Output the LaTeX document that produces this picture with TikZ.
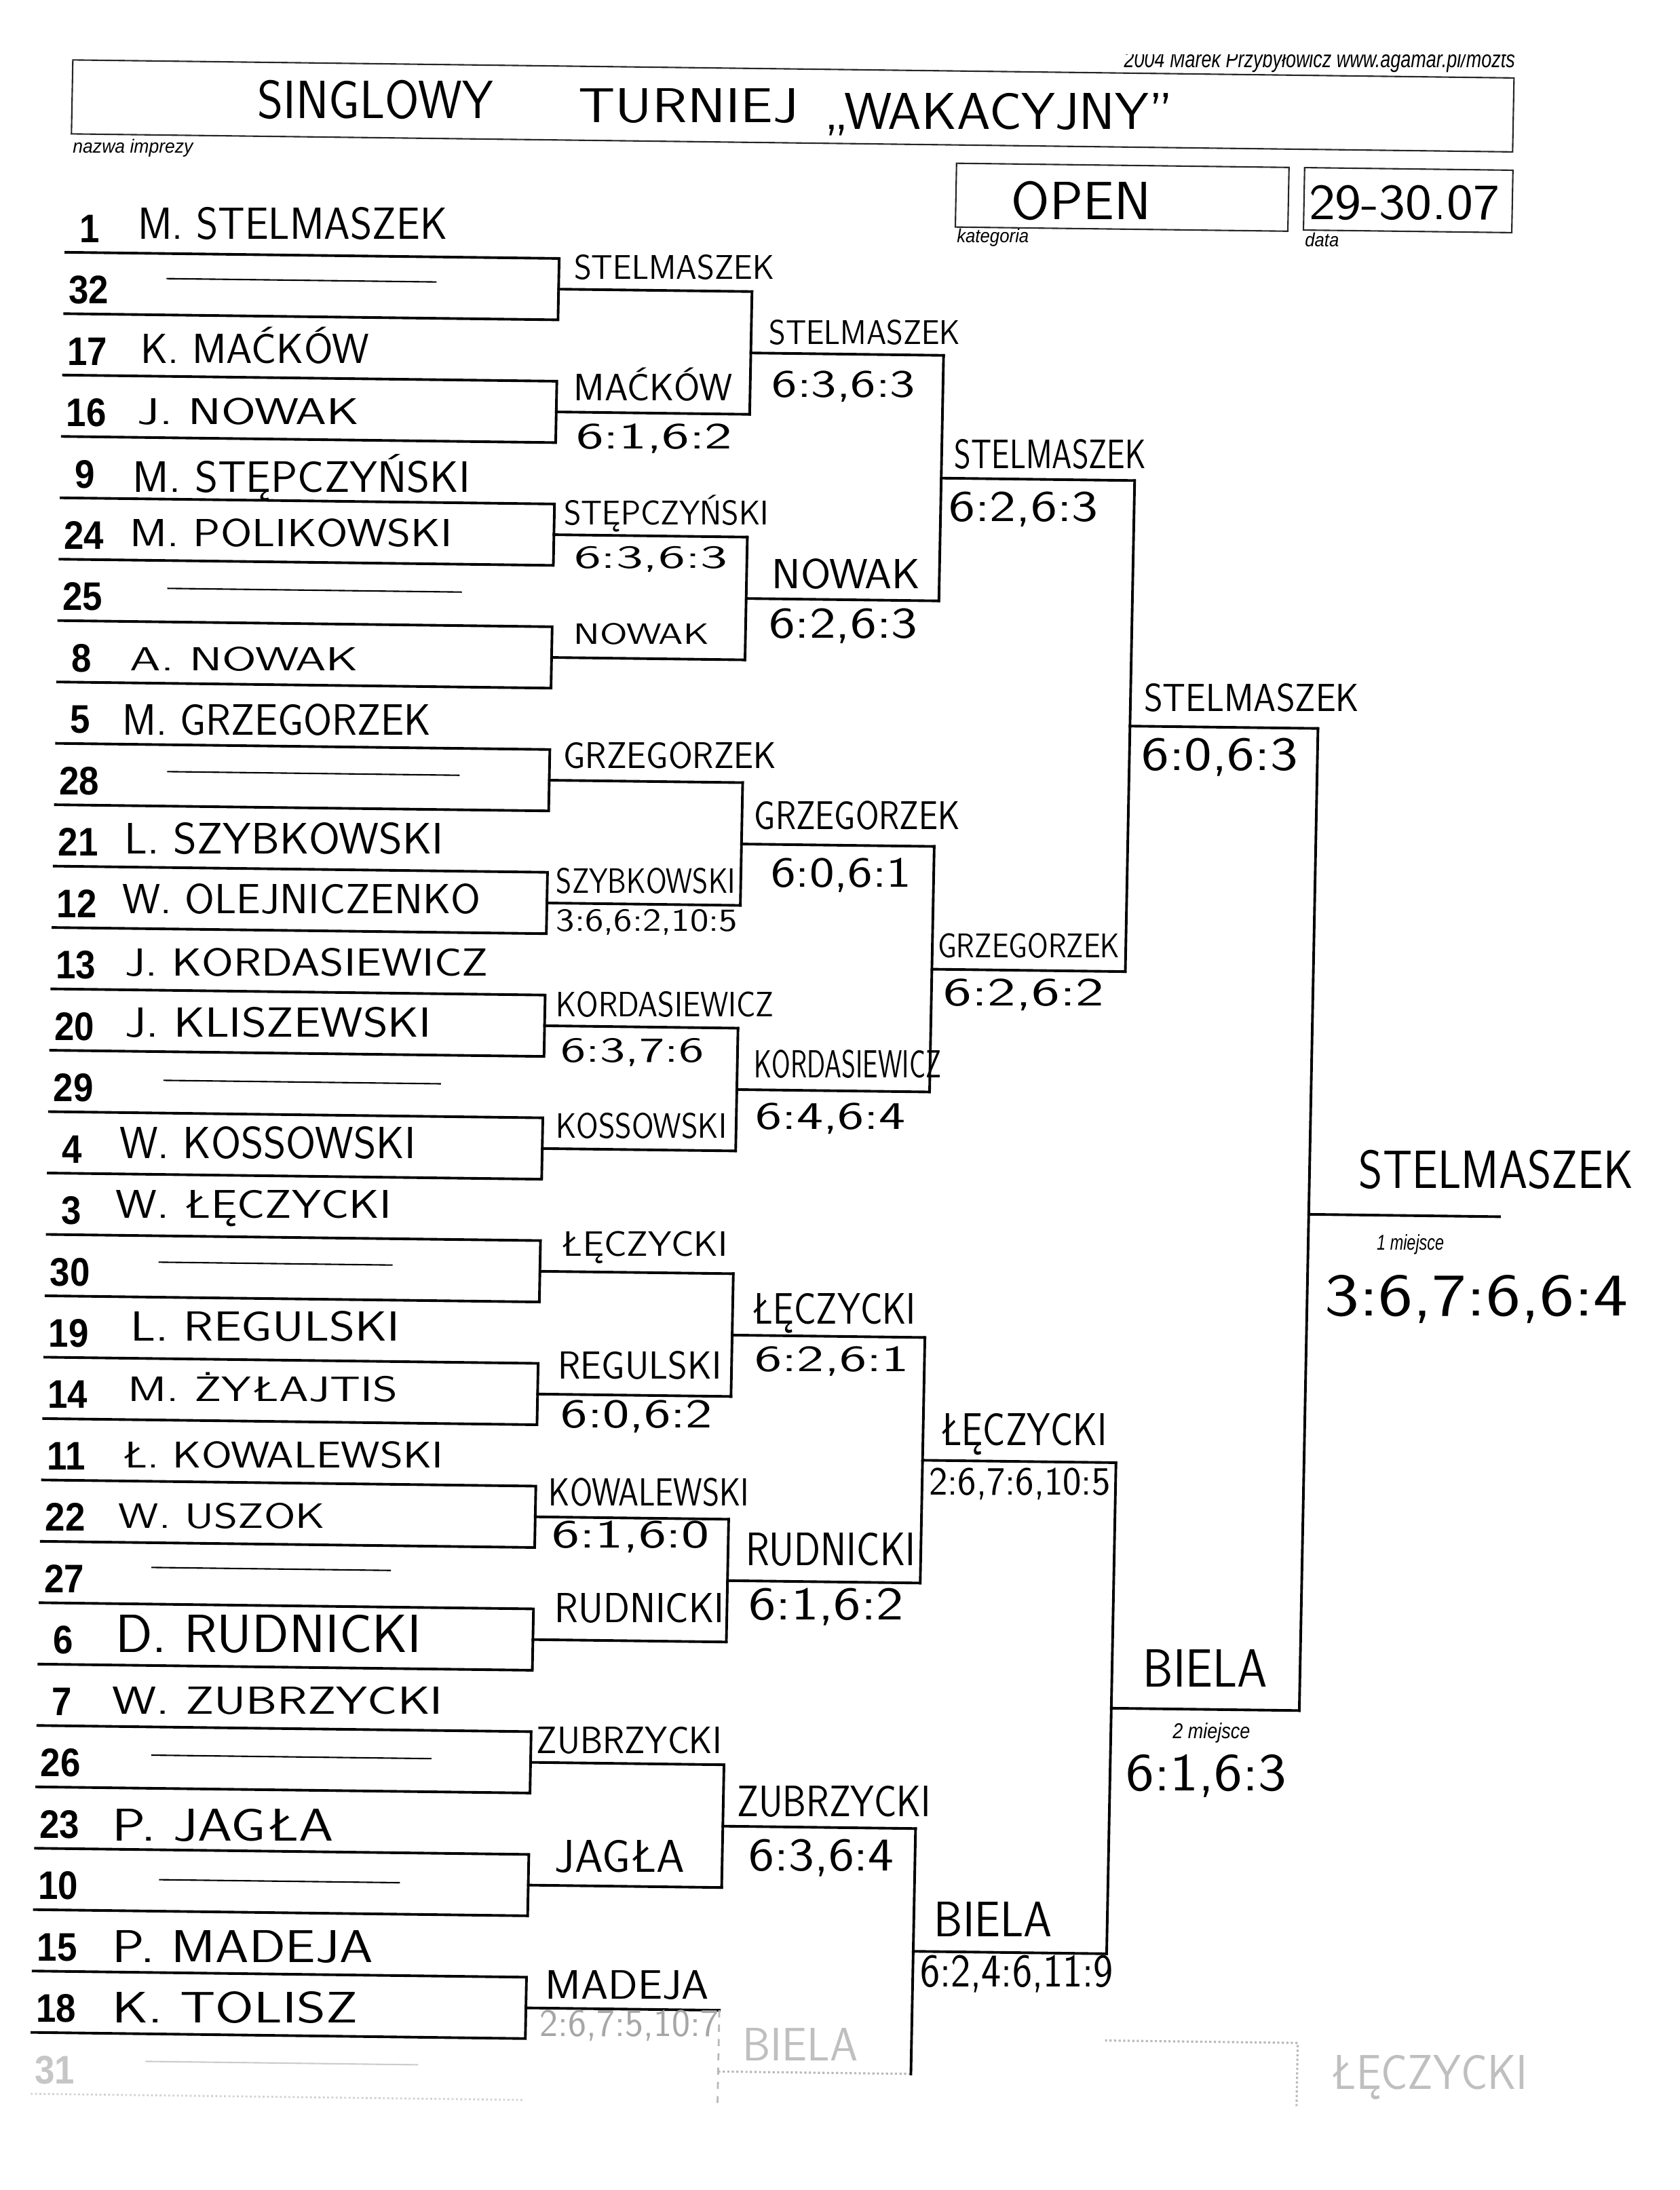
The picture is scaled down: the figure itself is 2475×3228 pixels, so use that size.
\documentclass[tikz,border=0pt]{standalone}
\usepackage{fontspec}
\usepackage{graphicx}
\newfontfamily\numfont{Liberation Sans}
\newfontfamily\prfont{Liberation Sans}
\newdimen\hwl
% handwriting: #1 cap height (px), #2 width (px), #3 text
\newcommand\hw[3]{{\pgfmathsetmacro\hws{#1*0.41}\fontsize{\hws}{\hws}\selectfont\sffamily\settowidth{\hwl}{#3}\pgfmathsetmacro\hwr{#2*0.284528/\hwl}\scalebox{\hwr}[1]{#3}}}
% printed italic: #1 size (pt), #2 width (px), #3 text
\newcommand\pr[3]{{\fontsize{#1}{#1}\selectfont\prfont\itshape\settowidth{\hwl}{#3}\pgfmathsetmacro\hwr{#2*0.284528/\hwl}\scalebox{\hwr}[1]{#3}}}
\newcommand\nb[1]{{\fontsize{16.7}{16.7}\selectfont\numfont\bfseries\scalebox{0.9}[1]{#1}}}
\tikzset{
  br/.style={line width=1.1pt, line join=miter, line cap=rect},
  dsh/.style={line width=0.6pt},
  hwn/.style={anchor=base west, inner sep=0pt},
  numn/.style={anchor=base, inner sep=0pt},
  faintc/.style={gray!55},
  hbox/.style={line width=0.6pt, draw=black!85},
}
\begin{document}
\begin{tikzpicture}[x=0.01cm,y=-0.01cm]
\useasboundingbox (0,0) rectangle (2475,3228);
\fill[white] (0,0) rectangle (2475,3228);
\begin{scope}
  \clip (1500,81) rectangle (2400,140);
  \begin{scope}[cm={1,-0.0125,0.019,1,(0,0)}]
    \node[anchor=base east, inner sep=0pt] (credit) at (2235,72) {\pr{10}{576}{2004 Marek Przybyłowicz www.agamar.pl/mozts}};
  \end{scope}
\end{scope}
\begin{scope}[cm={1,-0.0125,0.019,1,(0,0)}]
  % header
  \draw[hbox] (109,87) rectangle (2233,196);
  \node[hwn] (t1) at (382,170) {\hw{55}{347}{SINGLOWY}};
  \node[hwn] (t2) at (855,169.5) {\hw{50}{324}{TURNIEJ}};
  \node[hwn] (t3) at (1218,175) {\hw{53}{513}{„WAKACYJNY”}};
  \node[hwn] (lab1) at (111,224) {\pr{8}{177}{nazwa imprezy}};
  \draw[hbox] (1414,223) rectangle (1904,317);
  \node[hwn] (cat) at (1496,305) {\hw{55}{205}{OPEN}};
  \node[hwn] (lab2) at (1416,340) {\pr{8}{106}{kategoria}};
  \draw[hbox] (1927,223) rectangle (2234,315);
  \node[hwn] (date) at (1934,299) {\hw{52}{281}{29-30.07}};
  \node[hwn] (lab3) at (1929,339) {\pr{8}{50}{data}};

  % round 1 lines
  \foreach \i in {0,...,29}{
    \coordinate (w\i) at (104,{370.5+90.46*\i});
    \coordinate (e\i) at (831,{370.5+90.46*\i});
  }
  \foreach \k in {0,...,14}{
    \pgfmathtruncatemacro\a{2*\k}
    \pgfmathtruncatemacro\b{2*\k+1}
    \draw[br] (w\a) -- (e\a) -- (e\b) -- (w\b);
    \coordinate (ma\k) at (831,{415.73+180.92*\k});
    \coordinate (mb\k) at (1116,{415.73+180.92*\k});
    \draw[br] (ma\k) -- (mb\k);
  }
  \coordinate (w30) at (104,3084.3);
  \coordinate (e30) at (831,3084.3);
  \draw[gray!35, densely dotted, line width=0.8pt] (w30) -- (e30);
  % round 2 brackets
  \foreach \j in {0,...,6}{
    \pgfmathtruncatemacro\a{2*\j}
    \pgfmathtruncatemacro\b{2*\j+1}
    \draw[br] (mb\a) -- (mb\b);
    \coordinate (na\j) at (1116,{506.19+361.84*\j});
    \coordinate (nb\j) at (1400,{506.19+361.84*\j});
    \draw[br] (na\j) -- (nb\j);
  }
  \coordinate (na7) at (1116,3038.8);
  \coordinate (nb7) at (1400,3038.8);
  \coordinate (mf) at (1116,3085);
  \draw[faintc, dashed, line width=0.8pt] (mb14) -- (mf);
  \draw[faintc, densely dotted, line width=0.9pt] (na7) -- (nb7);
  % round 3 brackets
  \foreach \h in {0,...,3}{
    \pgfmathtruncatemacro\a{2*\h}
    \pgfmathtruncatemacro\b{2*\h+1}
    \draw[br] (nb\a) -- (nb\b);
    \coordinate (pa\h) at (1400,{687.11+723.68*\h});
    \coordinate (pb\h) at (1685,{687.11+723.68*\h});
    \draw[br] (pa\h) -- (pb\h);
  }
  % round 4 brackets
  \foreach \g in {0,1}{
    \pgfmathtruncatemacro\a{2*\g}
    \pgfmathtruncatemacro\b{2*\g+1}
    \draw[br] (pb\a) -- (pb\b);
    \coordinate (qa\g) at (1685,{1048.95+1447.36*\g});
    \coordinate (qb\g) at (1962,{1048.95+1447.36*\g});
    \draw[br] (qa\g) -- (qb\g);
  }
  % final
  \draw[br] (qb0) -- (qb1);
  \coordinate (fa) at (1962,1765);
  \coordinate (fb) at (2243,1765);
  \draw[br] (fa) -- (fb);
  % third place (faint)
  \coordinate (ta) at (1685,2986);
  \coordinate (tb) at (1969,2986);
  \coordinate (tc) at (1969,3080);
  \draw[faintc, densely dotted, line width=0.9pt] (ta) -- (tb) -- (tc);
  \node[hwn, text=gray!50] (third) at (2018,3054) {\hw{50}{291}{ŁĘCZYCKI}};

  % seed numbers
  \foreach \i/\t in {0/1,1/32,2/17,3/16,4/9,5/24,6/25,7/8,8/5,9/28,10/21,11/12,12/13,13/20,14/29,15/4,16/3,17/30,18/19,19/14,20/11,21/22,22/27,23/6,24/7,25/26,26/23,27/10,28/15,29/18}{
    \node[numn] (num\i) at (139,{355.5+90.46*\i}) {\nb{\t}};
  }
  \node[numn, text=gray!45] (num30) at (139,3069.3) {\nb{31}};

  % bye dashes
  \draw[dsh] (253,407.5) -- (651,407.5);
  \draw[dsh] (263,864) -- (697,864);
  \draw[dsh] (268,1134) -- (699,1134);
  \draw[dsh] (271,1589) -- (680,1589);
  \draw[dsh] (269,1857) -- (614,1857);
  \draw[dsh] (267,2307) -- (620,2307);
  \draw[dsh] (272,2583.6) -- (685,2583.6);
  \draw[dsh] (287,2767) -- (642,2767);
  \draw[dsh, gray!40] (272,3035) -- (674,3035);

  % round 1 names
  \node[hwn] (n0) at (209,349.6) {\hw{46}{456}{M. STELMASZEK}};
  \node[hwn] (n2) at (217,533) {\hw{43}{336}{K. MAĆKÓW}};
  \node[hwn] (n3) at (214,622.5) {\hw{38}{326}{J. NOWAK}};
  \node[hwn] (n4) at (209,723) {\hw{45}{497}{M. STĘPCZYŃSKI}};
  \node[hwn] (n5) at (206,803) {\hw{40}{475}{M. POLIKOWSKI}};
  \node[hwn] (n7) at (210,985.5) {\hw{34}{336}{A. NOWAK}};
  \node[hwn] (n8) at (200,1081) {\hw{45}{455}{M. GRZEGORZEK}};
  \node[hwn] (n10) at (207,1256) {\hw{45}{470}{L. SZYBKOWSKI}};
  \node[hwn] (n11) at (205,1343.5) {\hw{43}{528}{W. OLEJNICZENKO}};
  \node[hwn] (n12) at (211,1436) {\hw{40}{535}{J. KORDASIEWICZ}};
  \node[hwn] (n13) at (213,1526) {\hw{43}{451}{J. KLISZEWSKI}};
  \node[hwn] (n15) at (208,1705) {\hw{46}{436}{W. KOSSOWSKI}};
  \node[hwn] (n16) at (204,1793) {\hw{41}{406}{W. ŁĘCZYCKI}};
  \node[hwn] (n18) at (229,1974) {\hw{43}{397}{L. REGULSKI}};
  \node[hwn] (n19) at (227,2063) {\hw{36}{397}{M. ŻYŁAJTIS}};
  \node[hwn] (n20) at (220,2161) {\hw{38}{473}{Ł. KOWALEWSKI}};
  \node[hwn] (n21) at (217,2250) {\hw{36}{304}{W. USZOK}};
  \node[hwn] (n23) at (216,2433) {\hw{55}{451}{D. RUDNICKI}};
  \node[hwn] (n24) at (213,2524) {\hw{40}{487}{W. ZUBRZYCKI}};
  \node[hwn] (n26) at (216,2711) {\hw{47}{326}{P. JAGŁA}};
  \node[hwn] (n28) at (220,2889.5) {\hw{47}{384}{P. MADEJA}};
  \node[hwn] (n29) at (221,2979) {\hw{45}{362}{K. TOLISZ}};

  % round 2 labels
  \node[hwn] (r2w0) at (853,400.5) {\hw{35}{295}{STELMASZEK}};
  \node[hwn] (r2w1) at (856,580) {\hw{39}{234}{MAĆKÓW}};
  \node[hwn] (r2s1) at (861,651) {\hw{38}{230}{6:1,6:2}};
  \node[hwn] (r2w2) at (845,762.7) {\hw{35}{302}{STĘPCZYŃSKI}};
  \node[hwn] (r2s2) at (861,827) {\hw{33}{226}{6:3,6:3}};
  \node[hwn] (r2w3) at (863,939) {\hw{30}{199}{NOWAK}};
  \node[hwn] (r2w4) at (851,1122) {\hw{38}{314}{GRZEGORZEK}};
  \node[hwn] (r2w5) at (844,1306) {\hw{36}{264}{SZYBKOWSKI}};
  \node[hwn] (r2s5) at (845,1362) {\hw{33}{267}{3:6,6:2,10:5}};
  \node[hwn] (r2w6) at (847,1488) {\hw{36}{321}{KORDASIEWICZ}};
  \node[hwn] (r2s6) at (855,1555) {\hw{36}{211}{6:3,7:6}};
  \node[hwn] (r2w7) at (850,1667) {\hw{36}{252}{KOSSOWSKI}};
  \node[hwn] (r2w8) at (861,1841) {\hw{36}{246}{ŁĘCZYCKI}};
  \node[hwn] (r2w9) at (860,2022) {\hw{40}{241}{REGULSKI}};
  \node[hwn] (r2s9) at (866,2094) {\hw{42}{223}{6:0,6:2}};
  \node[hwn] (r2w10) at (850,2209) {\hw{40}{295}{KOWALEWSKI}};
  \node[hwn] (r2s10) at (856,2271) {\hw{41}{232}{6:1,6:0}};
  \node[hwn] (r2w11) at (862,2381) {\hw{43}{250}{RUDNICKI}};
  \node[hwn] (r2w12) at (839,2574) {\hw{39}{273}{ZUBRZYCKI}};
  \node[hwn] (r2w13) at (869,2749) {\hw{47}{192}{JAGŁA}};
  \node[hwn] (r2w14) at (859,2936) {\hw{42}{241}{MADEJA}};
  \node[hwn, text=gray!70] (r2s14) at (852,2991) {\hw{40}{263}{2:6,7:5,10:7}};

  % round 3 labels
  \node[hwn] (r3w0) at (1142,493) {\hw{35}{282}{STELMASZEK}};
  \node[hwn] (r3s0) at (1148,571.5) {\hw{40}{211}{6:3,6:3}};
  \node[hwn] (r3w1) at (1153,853) {\hw{43}{219}{NOWAK}};
  \node[hwn] (r3s1) at (1150,926.5) {\hw{45}{219}{6:2,6:3}};
  \node[hwn] (r3w2) at (1134,1208) {\hw{41}{303}{GRZEGORZEK}};
  \node[hwn] (r3s2) at (1160,1292.5) {\hw{44}{207}{6:0,6:1}};
  \node[hwn] (r3w3) at (1141,1574) {\hw{40}{275}{KORDASIEWICZ}};
  \node[hwn] (r3s3) at (1144,1650) {\hw{40}{221}{6:4,6:4}};
  \node[hwn] (r3w4) at (1144,1937.6) {\hw{45}{242}{ŁĘCZYCKI}};
  \node[hwn] (r3s4) at (1150,2007) {\hw{38}{227}{6:2,6:1}};
  \node[hwn] (r3w5) at (1142,2293.7) {\hw{48}{250}{RUDNICKI}};
  \node[hwn] (r3s5) at (1148,2373) {\hw{48}{228}{6:1,6:2}};
  \node[hwn] (r3w6) at (1136,2663) {\hw{45}{286}{ZUBRZYCKI}};
  \node[hwn] (r3s6) at (1155,2743) {\hw{48}{214}{6:3,6:4}};
  \node[hwn, text=gray!50] (r3w7) at (1151,3023) {\hw{48}{170}{BIELA}};

  % round 4 labels
  \node[hwn] (r4w0) at (1419,672.7) {\hw{42}{282}{STELMASZEK}};
  \node[hwn] (r4s0) at (1412,751) {\hw{45}{220}{6:2,6:3}};
  \node[hwn] (r4w1) at (1408,1394) {\hw{35}{268}{GRZEGORZEK}};
  \node[hwn] (r4s1) at (1418,1465) {\hw{41}{236}{6:2,6:2}};
  \node[hwn] (r4w2) at (1425,2113) {\hw{47}{246}{ŁĘCZYCKI}};
  \node[hwn] (r4s2) at (1410,2186) {\hw{41}{267}{2:6,7:6,10:5}};
  \node[hwn] (r4w3) at (1430,2837) {\hw{51}{174}{BIELA}};
  \node[hwn] (r4s3) at (1411,2911) {\hw{48}{284}{6:2,4:6,11:9}};

  % semifinal / final labels
  \node[hwn] (r5w0) at (1705,1027) {\hw{40}{317}{STELMASZEK}};
  \node[hwn] (r5s0) at (1703,1114.6) {\hw{49}{230}{6:0,6:3}};
  \node[hwn] (r5w1) at (1731,2465) {\hw{55}{183}{BIELA}};
  \node[hwn] (pl2) at (1776,2540) {\pr{9}{114}{2 miejsce}};
  \node[hwn] (r5s1) at (1709,2618) {\hw{55}{236}{6:1,6:3}};
  \node[hwn] (win) at (2035,1726.5) {\hw{55}{404}{STELMASZEK}};
  \node[hwn] (pl1) at (2063,1817) {\pr{9}{99}{1 miejsce}};
  \node[hwn] (fs) at (1988,1915) {\hw{62}{447}{3:6,7:6,6:4}};
\end{scope}
\end{tikzpicture}
\end{document}
